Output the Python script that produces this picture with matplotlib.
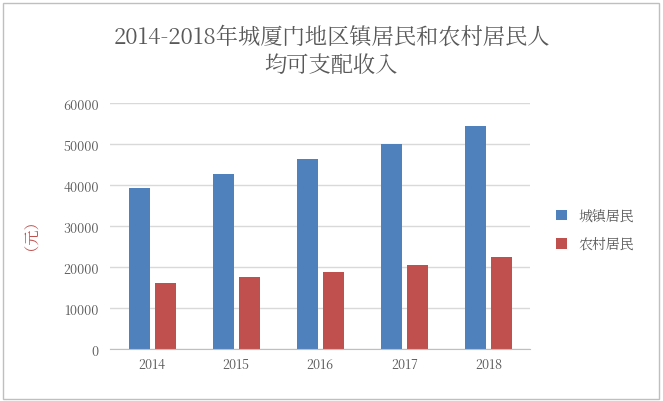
import matplotlib
matplotlib.use("Agg")
import matplotlib.pyplot as plt
from matplotlib import font_manager as fm
import numpy as np
from matplotlib.patches import Rectangle

cjk = None
for f in fm.findSystemFonts():
    if "CJK" in f or "cjk" in f.lower():
        try:
            fm.fontManager.addfont(f)
            name = fm.FontProperties(fname=f).get_name()
            if cjk is None or "SC" in name:
                cjk = name
        except Exception:
            pass
plt.rcParams["font.family"] = [cjk or "Noto Sans CJK SC", "DejaVu Sans"]

years = ["2014", "2015", "2016", "2017", "2018"]
urban = [39400, 42600, 46300, 50000, 54400]
rural = [16200, 17500, 18700, 20500, 22400]
yticks = [0, 10000, 20000, 30000, 40000, 50000, 60000]

fig = plt.figure(figsize=(6.63, 4.02), dpi=100)
fig.patches.append(Rectangle((0.004, 0.006), 0.99, 0.985, transform=fig.transFigure,
                             fill=False, edgecolor="#BFBFBF", linewidth=1))
ax = fig.add_axes([0.166, 0.129, 0.634, 0.612])
x = np.arange(len(years))
w = 0.25
ax.bar(x - 0.155, urban, w, color="#4F81BD", label="城镇居民")
ax.bar(x + 0.155, rural, w, color="#C0504D", label="农村居民")
ax.set_xlim(-0.5, 4.5)
ax.set_ylim(0, 60000)
ax.set_yticks(yticks)
ax.set_xticks(x, years)
ax.yaxis.grid(True, color="#D9D9D9", linewidth=1)
ax.set_axisbelow(True)
for s in ["top", "right", "left"]:
    ax.spines[s].set_visible(False)
ax.spines["bottom"].set_color("#BFBFBF")
ax.tick_params(axis="y", length=0, labelsize=9, colors="#595959", pad=8)
ax.tick_params(axis="x", length=0, labelsize=9, colors="#595959", pad=6)
ax.set_ylabel("（元）", color="#C0504D", fontsize=11, labelpad=22)
fig.text(0.5, 0.87, "2014-2018年城厦门地区镇居民和农村居民人\n均可支配收入", ha="center", va="center",
         fontsize=16, color="#595959", linespacing=1.2)
fig.legend(loc="center left", bbox_to_anchor=(0.82, 0.425), frameon=False, fontsize=10,
           labelcolor="#595959", handlelength=0.8, handleheight=0.8, labelspacing=0.9)
fig.savefig("out.png", dpi=100)
